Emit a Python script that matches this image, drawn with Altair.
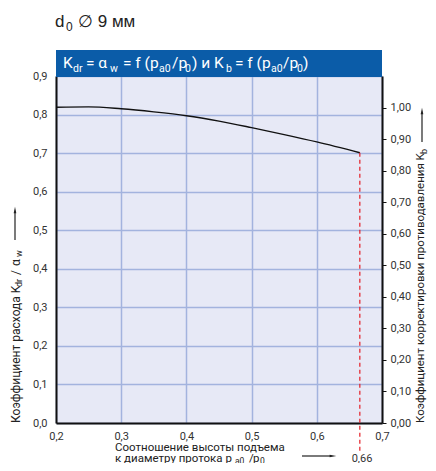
import altair as alt
import pandas as pd

# ---- data ----
ratio = [0.2, 0.25, 0.3, 0.35, 0.4, 0.45, 0.5, 0.55, 0.6, 0.666]
kdr = [0.819, 0.820, 0.815, 0.807, 0.797, 0.783, 0.766, 0.748, 0.729, 0.701]
x_ticks = [0.2, 0.3, 0.4, 0.5, 0.6, 0.7]
y_left_ticks = [0.0, 0.1, 0.2, 0.3, 0.4, 0.5, 0.6, 0.7, 0.8, 0.9]
y_right_ticks = [0.0, 0.1, 0.2, 0.3, 0.4, 0.5, 0.6, 0.7, 0.8, 0.9, 1.0]
y_right_max = 1.10
end_label = "0,66"

W, H = 326, 347
OX, OY = 56, 76  # page position of plot origin
FONT = "Roboto"
INK = "#222222"

df = pd.DataFrame({"ratio": ratio, "kdr": kdr})
end_df = df.iloc[[-1]]
one = pd.DataFrame({"t": [0]})

xscale = alt.Scale(domain=[0.2, 0.7], nice=False, zero=False)
yscale = alt.Scale(domain=[0.0, 0.9], nice=False)

comma1 = "replace(format(datum.value, '.1f'), '.', ',')"
comma2 = "replace(format(datum.value, '.2f'), '.', ',')"

curve = alt.Chart(df).mark_line(color="#111111", strokeWidth=1.4, interpolate="monotone").encode(
    x=alt.X("ratio:Q", scale=xscale, axis=alt.Axis(
        values=x_ticks, labelExpr=comma1, title=None, ticks=False, grid=True,
        labelFlush=False, labelPadding=7, domainColor="#111111", domainWidth=2)),
    y=alt.Y("kdr:Q", scale=yscale, axis=alt.Axis(
        orient="left", values=y_left_ticks, labelExpr=comma1, title=None, ticks=False,
        grid=True, labelPadding=9, domainColor="#111111", domainWidth=2)),
)

right_axis = alt.Chart(pd.DataFrame({"kb": y_right_ticks})).mark_point(opacity=0).encode(
    y=alt.Y("kb:Q", scale=alt.Scale(domain=[0.0, y_right_max], nice=False), axis=alt.Axis(
        orient="right", values=y_right_ticks, labelExpr=comma2, title=None, ticks=True,
        tickSize=4, tickColor="#111111", tickWidth=1, grid=False, labelPadding=4,
        domainColor="#111111", domainWidth=2)),
)

red = alt.Chart(end_df).mark_rule(color="#e41e26", strokeDash=[4, 3], strokeWidth=1.2).encode(
    x=alt.X("ratio:Q", scale=xscale),
    y=alt.Y("kdr:Q", scale=yscale, axis=None),
    y2=alt.value(453 - OY),
)

bar = alt.Chart(one).mark_rect(color="#0b5ca8").encode(
    x=alt.value(0), x2=alt.value(W), y=alt.value(50 - OY), y2=alt.value(1)
)


def txt(s, px, py, size=12, angle=0, color=INK, align="left", baseline="middle", font=FONT):
    kw = dict(text=s, fontSize=size, color=color, align=align, baseline=baseline, font=font)
    if angle:
        kw["angle"] = angle
    return alt.Chart(one).mark_text(**kw).encode(x=alt.value(px - OX), y=alt.value(py - OY))


def arrow_up(px, tail, tip):
    r = alt.Chart(one).mark_rule(color=INK, strokeWidth=1.2).encode(
        x=alt.value(px - OX), y=alt.value(tail - OY), y2=alt.value(tip - OY + 5))
    h = alt.Chart(one).mark_point(shape="M0,-1L0.4,1L-0.4,1Z", filled=True, size=45,
                                  color=INK, opacity=1).encode(
        x=alt.value(px - OX), y=alt.value(tip - OY + 3))
    return [r, h]


def arrow_right(py, tail, tip):
    r = alt.Chart(one).mark_rule(color=INK, strokeWidth=1.2).encode(
        y=alt.value(py - OY), x=alt.value(tail - OX), x2=alt.value(tip - OX - 5))
    h = alt.Chart(one).mark_point(shape="M1,0L-1,0.4L-1,-0.4Z", filled=True, size=45,
                                  color=INK, opacity=1).encode(
        y=alt.value(py - OY), x=alt.value(tip - OX - 3))
    return [r, h]


WH = "#ffffff"
MY, SY = 63, 69  # title bar main / sub centre lines
title_bar = [
    txt("K", 63, MY, 15.5, color=WH), txt("dr", 73, SY, 10.5, color=WH),
    txt("= α", 86, MY, 15.5, color=WH), txt("w", 110, SY, 10.5, color=WH),
    txt("= f (p", 123, MY, 15.5, color=WH), txt("a0", 159, SY, 10.5, color=WH),
    txt("/p", 172, MY, 15.5, color=WH), txt("0", 185, SY, 10.5, color=WH),
    txt(") и K", 192, MY, 15.5, color=WH), txt("b", 226, SY, 10.5, color=WH),
    txt("= f (p", 235, MY, 15.5, color=WH), txt("a0", 271, SY, 10.5, color=WH),
    txt("/p", 283, MY, 15.5, color=WH), txt("0", 297, SY, 10.5, color=WH),
    txt(")", 303, MY, 15.5, color=WH),
]

header = [
    txt("d", 55, 27, 17, baseline="alphabetic", font="Liberation Sans"),
    txt("0", 66, 31, 12, baseline="alphabetic", font="Liberation Sans"),
    txt("∅ 9 мм", 78, 27, 17, baseline="alphabetic", font="Liberation Sans"),
]

left_title = [
    txt("Коэффициент расхода K", 16, 423, 12, angle=270),
    txt("dr", 19, 287, 9, angle=270),
    txt("/", 16, 275, 12, angle=270),
    txt("α", 16, 266, 12, angle=270),
    txt("w", 19, 257, 9, angle=270),
] + arrow_up(15, 240, 207)

right_title = [
    txt("Коэффициент корректировки противодавления K", 421, 423, 11.5, angle=270),
    txt("b", 424, 154, 9, angle=270),
] + arrow_up(422, 142, 108)

bottom_title = [
    txt("Соотношение высоты подъема", 115, 451, 11.5, baseline="alphabetic"),
    txt("к диаметру протока p", 115, 462, 11.5, baseline="alphabetic"),
    txt("a0", 235, 464, 8.5, baseline="alphabetic"),
    txt("/", 249, 462, 11.5, baseline="alphabetic"),
    txt("p", 253, 462, 11.5, baseline="alphabetic"),
    txt("0", 260, 464, 8.5, baseline="alphabetic"),
    txt(end_label, 362, 462, 11, align="center", color="#333333", baseline="alphabetic"),
] + arrow_right(456, 302, 336)

layers = [curve, right_axis, red, bar] + title_bar + header + left_title + right_title + bottom_title

chart = alt.layer(*layers).properties(
    width=W, height=H,
    padding={"left": 48, "top": 68, "right": 46, "bottom": 40},
    autosize=alt.AutoSizeParams(type="none"),
).resolve_scale(y="independent").configure_view(
    fill="#e7e9f6", stroke=None
).configure_axis(
    labelFont=FONT, labelFontSize=11, labelColor="#333333",
    gridColor="#a3b3de", gridWidth=1.5,
)

chart.save("out.html", embed_options={"renderer": "svg", "actions": False})
